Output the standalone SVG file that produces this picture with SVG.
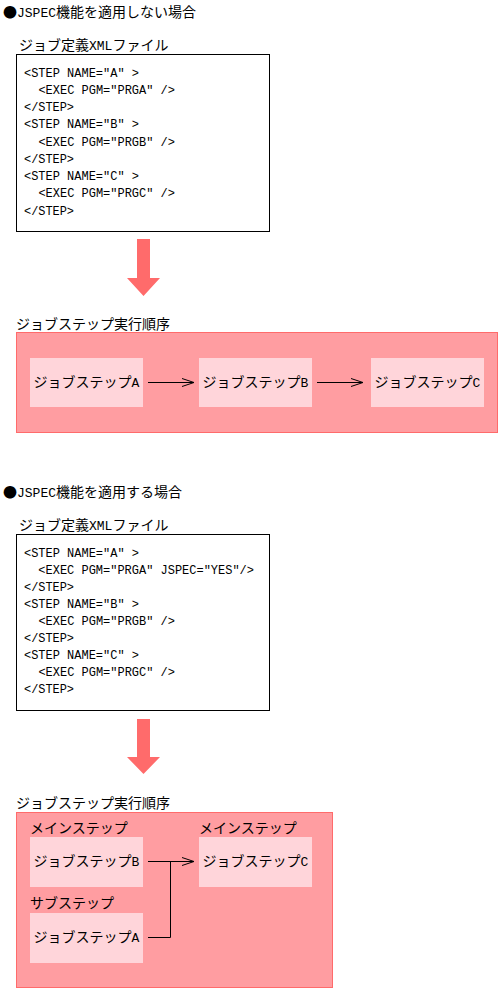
<svg xmlns="http://www.w3.org/2000/svg" width="499" height="991" viewBox="0 0 499 991">
<style>
.jp{font-family:"Noto Sans CJK JP","Liberation Sans",sans-serif;font-size:14px;fill:#000}
.h{font-family:"Liberation Mono","DejaVu Sans Mono",monospace;font-size:13px}
.code{font-family:"Liberation Mono","DejaVu Sans Mono",monospace;font-size:13.5px;fill:#000;white-space:pre}
.file{fill:#fff;stroke:#000;stroke-width:1}
.order{fill:#FF9DA1;stroke:#FF6B6B;stroke-width:1}
.step{fill:#FFD5DA}
.big{fill:#FF6B6B}
.conn{fill:none;stroke:#000;stroke-width:1}
</style>
<defs>
<marker id="open" viewBox="0 0 12 10" refX="12" refY="5" markerWidth="12" markerHeight="10" markerUnits="userSpaceOnUse" orient="auto">
<path d="M0,1 L12,5 L0,9" fill="none" stroke="#000" stroke-width="1"/>
</marker>
</defs>

<!-- Section 1 -->
<g id="title1"><text class="jp" x="3" y="17">●<tspan class="h">JSPEC</tspan>機能を適用しない場合</text></g>
<g id="file1">
<text class="jp" x="19" y="50">ジョブ定義<tspan class="h">XML</tspan>ファイル</text>
<rect class="file" x="16.5" y="54.5" width="253" height="177"/>
<text class="code" x="24" y="76.5" xml:space="preserve" textLength="115" lengthAdjust="spacingAndGlyphs">&lt;STEP NAME="A" &gt;</text>
<text class="code" x="24" y="93.75" xml:space="preserve" textLength="151" lengthAdjust="spacingAndGlyphs">  &lt;EXEC PGM="PRGA" /&gt;</text>
<text class="code" x="24" y="111" xml:space="preserve" textLength="50" lengthAdjust="spacingAndGlyphs">&lt;/STEP&gt;</text>
<text class="code" x="24" y="128.25" xml:space="preserve" textLength="115" lengthAdjust="spacingAndGlyphs">&lt;STEP NAME="B" &gt;</text>
<text class="code" x="24" y="145.5" xml:space="preserve" textLength="151" lengthAdjust="spacingAndGlyphs">  &lt;EXEC PGM="PRGB" /&gt;</text>
<text class="code" x="24" y="162.75" xml:space="preserve" textLength="50" lengthAdjust="spacingAndGlyphs">&lt;/STEP&gt;</text>
<text class="code" x="24" y="180" xml:space="preserve" textLength="115" lengthAdjust="spacingAndGlyphs">&lt;STEP NAME="C" &gt;</text>
<text class="code" x="24" y="197.25" xml:space="preserve" textLength="151" lengthAdjust="spacingAndGlyphs">  &lt;EXEC PGM="PRGC" /&gt;</text>
<text class="code" x="24" y="214.5" xml:space="preserve" textLength="50" lengthAdjust="spacingAndGlyphs">&lt;/STEP&gt;</text>
</g>
<g id="bigarrow1"><polygon class="big" points="137,239 150,239 150,278 160,278 143.5,296 127,278 137,278"/></g>
<g id="order1">
<text class="jp" x="16" y="329">ジョブステップ実行順序</text>
<rect class="order" x="16.5" y="332.5" width="481" height="100"/>
</g>
<g id="s1A"><rect class="step" x="30" y="358" width="113" height="49"/><text class="jp" x="86.5" y="387" text-anchor="middle">ジョブステップ<tspan class="h">A</tspan></text></g>
<g id="s1B"><rect class="step" x="199" y="358" width="113" height="49"/><text class="jp" x="255.5" y="387" text-anchor="middle">ジョブステップ<tspan class="h">B</tspan></text></g>
<g id="s1C"><rect class="step" x="371" y="358" width="113" height="49"/><text class="jp" x="427.5" y="387" text-anchor="middle">ジョブステップ<tspan class="h">C</tspan></text></g>

<!-- Section 2 -->
<g id="title2"><text class="jp" x="3" y="497">●<tspan class="h">JSPEC</tspan>機能を適用する場合</text></g>
<g id="file2">
<text class="jp" x="19" y="530">ジョブ定義<tspan class="h">XML</tspan>ファイル</text>
<rect class="file" x="16.5" y="534.5" width="253" height="176"/>
<text class="code" x="24" y="556.5" xml:space="preserve" textLength="115" lengthAdjust="spacingAndGlyphs">&lt;STEP NAME="A" &gt;</text>
<text class="code" x="24" y="573.6" xml:space="preserve" textLength="230" lengthAdjust="spacingAndGlyphs">  &lt;EXEC PGM="PRGA" JSPEC="YES"/&gt;</text>
<text class="code" x="24" y="590.7" xml:space="preserve" textLength="50" lengthAdjust="spacingAndGlyphs">&lt;/STEP&gt;</text>
<text class="code" x="24" y="607.8" xml:space="preserve" textLength="115" lengthAdjust="spacingAndGlyphs">&lt;STEP NAME="B" &gt;</text>
<text class="code" x="24" y="624.9" xml:space="preserve" textLength="151" lengthAdjust="spacingAndGlyphs">  &lt;EXEC PGM="PRGB" /&gt;</text>
<text class="code" x="24" y="642" xml:space="preserve" textLength="50" lengthAdjust="spacingAndGlyphs">&lt;/STEP&gt;</text>
<text class="code" x="24" y="659.1" xml:space="preserve" textLength="115" lengthAdjust="spacingAndGlyphs">&lt;STEP NAME="C" &gt;</text>
<text class="code" x="24" y="676.2" xml:space="preserve" textLength="151" lengthAdjust="spacingAndGlyphs">  &lt;EXEC PGM="PRGC" /&gt;</text>
<text class="code" x="24" y="693.3" xml:space="preserve" textLength="50" lengthAdjust="spacingAndGlyphs">&lt;/STEP&gt;</text>
</g>
<g id="bigarrow2"><polygon class="big" points="137,719 150,719 150,757 160,757 143.5,774 127,757 137,757"/></g>
<g id="order2">
<text class="jp" x="16" y="808">ジョブステップ実行順序</text>
<rect class="order" x="16.5" y="812.5" width="316" height="175"/>
</g>
<g id="s2B">
<text class="jp" x="30" y="833">メインステップ</text>
<rect class="step" x="30" y="837" width="113" height="50"/><text class="jp" x="86.5" y="866" text-anchor="middle">ジョブステップ<tspan class="h">B</tspan></text></g>
<g id="s2A">
<text class="jp" x="30" y="908">サブステップ</text>
<rect class="step" x="30" y="913" width="113" height="50"/><text class="jp" x="86.5" y="942" text-anchor="middle">ジョブステップ<tspan class="h">A</tspan></text></g>
<g id="s2C">
<text class="jp" x="199" y="833">メインステップ</text>
<rect class="step" x="199" y="837" width="113" height="50"/><text class="jp" x="255.5" y="866" text-anchor="middle">ジョブステップ<tspan class="h">C</tspan></text></g>

<g id="connectors">
<line class="conn" x1="148" y1="382.5" x2="194" y2="382.5" marker-end="url(#open)"/>
<line class="conn" x1="317" y1="382.5" x2="363" y2="382.5" marker-end="url(#open)"/>
<line class="conn" x1="148" y1="861.5" x2="194" y2="861.5" marker-end="url(#open)"/>
<polyline class="conn" points="148,937.5 170.5,937.5 170.5,861.5"/>
</g>
</svg>
